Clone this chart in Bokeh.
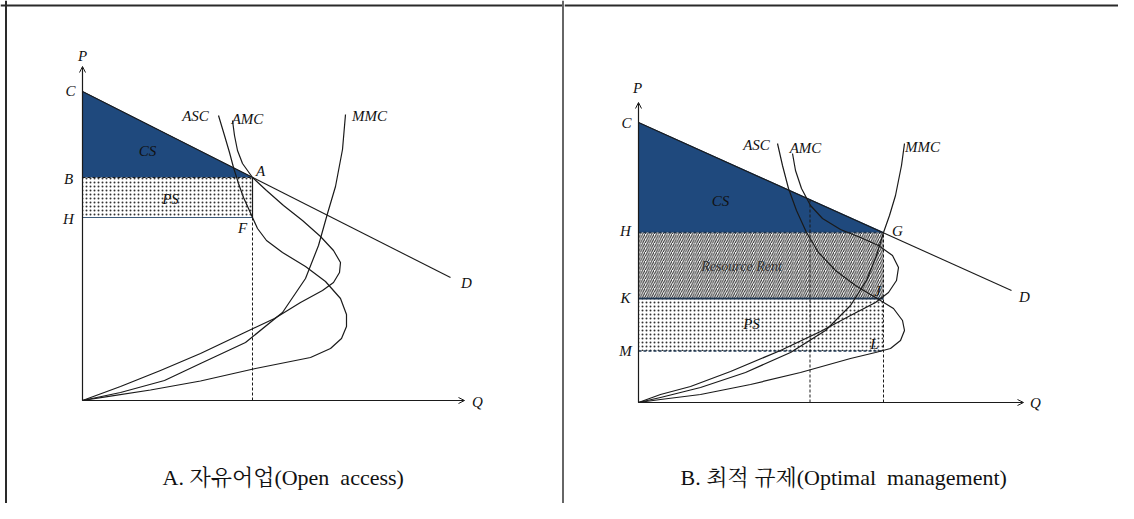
from bokeh.plotting import figure
from bokeh.layouts import row
from bokeh.models import Arrow, OpenHead, Span, ColumnDataSource
from bokeh.core.properties import value
from bokeh.embed import file_html
from bokeh.resources import INLINE

# ---------------- Panel A : open access (Q, P diagram units) ----------------
a_demand_q = [0, 368]
a_demand_p = [309, 123]
a_eq_q = 170          # open-access quantity (point A / F)
a_price_B = 223       # price at A
a_price_H = 183       # average social cost at F
a_choke = 309         # point C
a_axis_q = 382
a_axis_p = 334

a_amc_q = [150, 152, 155, 160, 170, 184, 201, 220, 238, 251, 258, 257, 251, 240, 218, 192, 158, 118, 78, 38, 0]
a_amc_p = [280, 265, 250, 237, 223, 210, 195, 180, 164, 150, 138, 128, 118, 110, 98, 82, 66, 47, 30, 14, 0]
a_asc_q = [136, 142, 147, 151, 156, 161, 166, 170, 175, 184, 200, 223, 243, 258, 264, 264, 259, 248, 228, 198, 173, 118, 68, 28, 0]
a_asc_p = [285, 265, 248, 233, 217, 203, 192, 183, 172, 160, 148, 134, 119, 102, 86, 74, 62, 52, 43, 37, 32, 19.5, 10.5, 4.3, 0]
a_mmc_q = [263, 260, 253, 245, 236, 223, 200, 163, 118, 82, 38, 0]
a_mmc_p = [286, 251, 214, 187, 155, 122, 88, 58, 37, 20, 8, 0]

a_lab_text = ["P", "C", "B", "H", "A", "F", "CS", "PS", "ASC", "AMC", "MMC", "D", "Q"]
a_lab_q = [0, -12, -14, -14, 178, 160, 65, 88, 113, 165, 287, 384, 395]
a_lab_p = [345, 310, 222, 182, 230, 173, 250, 202, 285, 282, 285, 118, -1]
a_caption = "A.  자유어업(Open\u00a0 access)"
a_caption_q, a_caption_p = 80, -77

# ---------------- Panel B : optimal management ----------------
b_demand_q = [0, 373]
b_demand_p = [280, 112]
b_oa_q = 171.5        # open-access quantity (dashed reference line)
b_oa_p = 203
b_opt_q = 245         # optimal quantity (point G)
b_price_H = 170
b_price_K = 104
b_price_M = 51.5
b_choke = 280
b_axis_q = 385
b_axis_p = 300

b_amc_q = [154, 157, 163, 172, 184, 202, 222, 240, 254, 260, 258, 250, 237, 212, 182, 142, 92, 52, 22, 0]
b_amc_p = [249, 232, 214, 197, 184, 173, 165, 157, 147, 135, 122, 110, 100, 87, 71, 52, 31, 16, 8, 0]
b_asc_q = [139, 144, 150, 158, 168, 180, 197, 217, 237, 255, 264, 266, 262, 252, 237, 212, 162, 112, 62, 22, 0]
b_asc_p = [259, 237, 214, 192, 170, 150, 132, 117, 105, 94, 82, 72, 62, 54, 50, 44, 30, 18, 8, 3, 0]
b_mmc_q = [266, 263, 257, 251, 245, 238, 228, 212, 187, 152, 107, 62, 22, 0]
b_mmc_p = [259, 237, 207, 187, 170, 147, 122, 97, 72, 50, 30, 15, 5, 0]

b_lab_text = ["P", "C", "H", "K", "M", "G", "J", "L", "CS", "PS", "ASC", "AMC", "MMC", "D", "Q"]
b_lab_q = [-1, -12, -13, -13, -13, 259, 239, 236, 82, 113, 118, 167, 284, 386, 397]
b_lab_p = [315, 280, 172, 105, 52, 172, 112, 59, 202, 79, 258, 255, 256, 106, 0]
b_rent_text = "Resource Rent"
b_rent_q, b_rent_p = 103, 136
b_caption = "B.  최적 규제(Optimal\u00a0 management)"
b_caption_q, b_caption_p = 42, -75

NAVY = "#1f497d"
INK = "#1a1a1a"
SERIF = value("Liberation Serif")
CAP_FONT = value("'Liberation Serif', 'Noto Serif CJK KR', 'Noto Sans CJK KR', serif")


def base_fig(w, h, xr, yr):
    p = figure(width=w, height=h, x_range=xr, y_range=yr, output_backend="svg",
               toolbar_location=None, x_axis_location=None, y_axis_location=None,
               min_border=0, outline_line_color=None, background_fill_color="white",
               border_fill_color="white")
    p.grid.visible = False
    return p


def axes(p, qmax, pmax):
    p.add_layout(Arrow(end=OpenHead(size=6, line_width=1, line_color=INK), x_start=0, y_start=0,
                       x_end=qmax, y_end=0, line_width=1.2, line_color=INK))
    p.add_layout(Arrow(end=OpenHead(size=6, line_width=1, line_color=INK), x_start=0, y_start=0,
                       x_end=0, y_end=pmax, line_width=1.2, line_color=INK))


def labels(p, txt, qs, ps, size="15px"):
    src = ColumnDataSource(dict(x=qs, y=ps, t=txt))
    p.text(x="x", y="y", text="t", source=src, text_font=SERIF, text_font_style="italic",
           text_font_size=size, text_align="center", text_baseline="middle", text_color="#111")


# ---------------- Figure A ----------------
WA, WB, H = 564, 554, 503
pa = base_fig(WA, H, (-82, 482), (-103, 400))
pa.add_layout(Span(location=395, dimension="width", line_color="#2a2a2a", line_width=2))
pa.add_layout(Span(location=-76.5, dimension="height", line_color="#2a2a2a", line_width=2))
pa.add_layout(Span(location=480.5, dimension="height", line_color="#666", line_width=2))

pa.patch([0, a_eq_q, 0], [a_choke, a_price_B, a_price_B], fill_color=NAVY, line_color=NAVY, line_width=1)
pa.quad(left=[0], right=[a_eq_q], bottom=[a_price_H], top=[a_price_B], fill_color="white",
        hatch_pattern="dot", hatch_scale=4, hatch_weight=0.8, hatch_color="#333", line_color=None)
pa.line([0, a_eq_q], [a_price_B, a_price_B], line_color=INK, line_width=1.2, line_dash="3 2")
pa.line([0, a_eq_q], [a_price_H, a_price_H], line_color="#3c5a7a", line_width=1.2)
pa.line([a_eq_q, a_eq_q], [a_price_H, a_price_B], line_color=INK, line_width=1.2)
pa.line([a_eq_q, a_eq_q], [0, a_price_H], line_color=INK, line_width=1, line_dash="3 2")
pa.line(a_demand_q, a_demand_p, line_color=INK, line_width=1.1)
for q, pp in ((a_asc_q, a_asc_p), (a_amc_q, a_amc_p), (a_mmc_q, a_mmc_p)):
    pa.line(q, pp, line_color=INK, line_width=1.2, line_join="round")
axes(pa, a_axis_q, a_axis_p)
labels(pa, a_lab_text, a_lab_q, a_lab_p)
pa.text(x=[a_caption_q], y=[a_caption_p], text=[a_caption], text_font=CAP_FONT,
        text_font_size="22px", text_align="left", text_baseline="middle", text_color="#111")

# ---------------- Figure B ----------------
pb = base_fig(WB, H, (-74, 480), (-101, 402))
pb.add_layout(Span(location=397, dimension="width", line_color="#2a2a2a", line_width=2))

pb.patch([0, b_opt_q, 0], [b_choke, b_price_H, b_price_H], fill_color=NAVY, line_color=NAVY, line_width=1)
pb.quad(left=[0], right=[b_opt_q], bottom=[b_price_K], top=[b_price_H], fill_color="white",
        hatch_pattern="right_diagonal_line", hatch_scale=4.5, hatch_weight=1, hatch_color="#222",
        line_color=None)
pb.quad(left=[0], right=[b_opt_q], bottom=[b_price_M], top=[b_price_K], fill_color="white",
        hatch_pattern="dot", hatch_scale=4, hatch_weight=0.8, hatch_color="#333", line_color=None)
pb.line([0, b_opt_q], [b_price_H, b_price_H], line_color="#1d3550", line_width=1.4, line_dash="3 2")
pb.line([0, b_opt_q], [b_price_K, b_price_K], line_color="#1d3550", line_width=1.8)
pb.line([0, b_opt_q], [b_price_M, b_price_M], line_color="#1d3550", line_width=1.4, line_dash="3 2")
pb.line([b_opt_q, b_opt_q], [0, b_price_H], line_color=INK, line_width=1, line_dash="3 2")
pb.line([b_oa_q, b_oa_q], [0, b_oa_p], line_color=INK, line_width=1, line_dash="3 2")
pb.line(b_demand_q, b_demand_p, line_color=INK, line_width=1.1)
for q, pp in ((b_asc_q, b_asc_p), (b_amc_q, b_amc_p), (b_mmc_q, b_mmc_p)):
    pb.line(q, pp, line_color=INK, line_width=1.2, line_join="round")
axes(pb, b_axis_q, b_axis_p)
labels(pb, b_lab_text, b_lab_q, b_lab_p)
pb.text(x=[b_rent_q], y=[b_rent_p], text=[b_rent_text], text_font=SERIF, text_font_style="italic",
        text_font_size="14px", text_align="center", text_baseline="middle", text_color="#333")
pb.text(x=[b_caption_q], y=[b_caption_p], text=[b_caption], text_font=CAP_FONT,
        text_font_size="22px", text_align="left", text_baseline="middle", text_color="#111")

layout = row(pa, pb, spacing=0)
open("out.html", "w").write(file_html(layout, INLINE))
